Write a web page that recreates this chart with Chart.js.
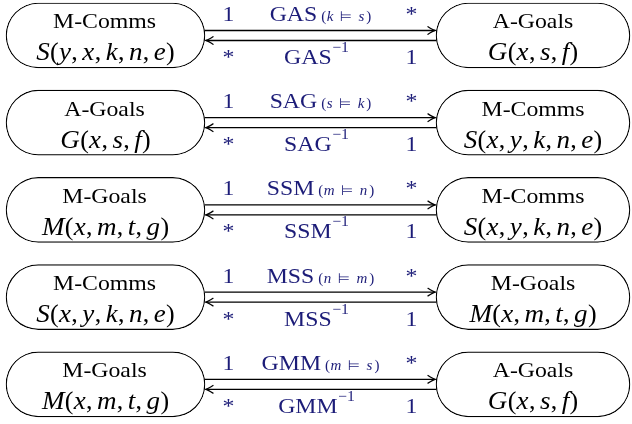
<!DOCTYPE html>
<html><head><meta charset="utf-8">
<script src="https://cdn.jsdelivr.net/npm/chart.js@4/dist/chart.umd.min.js"></script>
<style>html,body{margin:0;padding:0;background:#fff}#wrap{width:632px;height:424px}</style>
</head><body><div id="wrap"><canvas id="c" width="632" height="424"></canvas></div>
<script>
// ---- data ----
const leftTitles    = ['M-Comms', 'A-Goals', 'M-Goals', 'M-Comms', 'M-Goals'];
const leftFormulas  = ['S(y,x,k,n,e)', 'G(x,s,f)', 'M(x,m,t,g)', 'S(x,y,k,n,e)', 'M(x,m,t,g)'];
const rightTitles   = ['A-Goals', 'M-Comms', 'M-Comms', 'M-Goals', 'A-Goals'];
const rightFormulas = ['G(x,s,f)', 'S(x,y,k,n,e)', 'S(x,y,k,n,e)', 'M(x,m,t,g)', 'G(x,s,f)'];
const relations     = ['GAS', 'SAG', 'SSM', 'MSS', 'GMM'];
const conditions    = [['k','s'], ['s','k'], ['m','n'], ['n','m'], ['m','s']];
const forwardMult   = ['1', '*'];   // source end, target end
const inverseMult   = ['*', '1'];
const rows = relations.map((_, i) => i);

// ---- layout / style (not data) ----
const L = {
  leftBox: [6, 205], rightBox: [436, 630], boxH: 65,
  yMin: -0.407, yMax: 4.455,
  arrowOff: 5, multL: 228.5, multR: 411.5,
  topBase: -14.5, botBase: 28.5, titleBase: -7, formBase: 25
};
const SERIF = '"Liberation Serif", "DejaVu Serif", serif';
const NAVY = '#1c1c78';
const SX = 1.08;   // horizontal stretch of the text font
const FS = 22;     // main text size

function rich(ctx, segs, cx, base, color) {
  let w = 0;
  segs.forEach(s => {
    ctx.font = s.f; s.sx = s.sx || 1;
    s.w = ctx.measureText(s.t).width * s.sx; w += (s.g || 0) + s.w;
  });
  let x = cx - w / 2;
  ctx.fillStyle = color; ctx.textAlign = 'left'; ctx.textBaseline = 'alphabetic';
  segs.forEach(s => {
    x += s.g || 0; ctx.font = s.f;
    ctx.save(); ctx.translate(x, base - (s.r || 0)); ctx.scale(s.sx, 1);
    ctx.fillText(s.t, 0, 0); ctx.restore();
    x += s.w;
  });
}
function mathSegs(str, size) {
  const segs = [];
  let gap = 0;
  for (const ch of str) {
    if (/[A-Za-z]/.test(ch)) segs.push({ t: ch, f: `italic ${size}px ${SERIF}`, g: gap, sx: 1.04 });
    else segs.push({ t: ch, f: `${size}px ${SERIF}`, g: gap });
    gap = ch === ',' ? 4.5 : 0.3;
  }
  return segs;
}
const txt = (t, size, extra) => Object.assign({ t, f: `${size}px ${SERIF}`, sx: SX }, extra || {});

const diagram = {
  id: 'diagram',
  afterDatasetsDraw(chart) {
    const ctx = chart.ctx, xs = chart.scales.x, ys = chart.scales.y;
    ctx.save();
    rows.forEach(i => {
      const cy = ys.getPixelForValue(i);
      const xl = xs.getPixelForValue(L.leftBox[1]), xr = xs.getPixelForValue(L.rightBox[0]);
      const lc = xs.getPixelForValue((L.leftBox[0] + L.leftBox[1]) / 2);
      const rc = xs.getPixelForValue((L.rightBox[0] + L.rightBox[1]) / 2);
      const mid = (xl + xr) / 2;
      const mL = xs.getPixelForValue(L.multL), mR = xs.getPixelForValue(L.multR);
      // arrows
      ctx.strokeStyle = '#000'; ctx.lineWidth = 1.3; ctx.lineCap = 'round';
      const ya = cy - L.arrowOff, yb = cy + L.arrowOff;
      ctx.beginPath(); ctx.moveTo(xl, ya); ctx.lineTo(xr - 1, ya); ctx.stroke();
      ctx.beginPath(); ctx.moveTo(xr - 8, ya - 3.8); ctx.quadraticCurveTo(xr - 3, ya - 0.6, xr - 1, ya);
      ctx.quadraticCurveTo(xr - 3, ya + 0.6, xr - 8, ya + 3.8); ctx.stroke();
      ctx.beginPath(); ctx.moveTo(xr, yb); ctx.lineTo(xl + 1, yb); ctx.stroke();
      ctx.beginPath(); ctx.moveTo(xl + 8, yb - 3.8); ctx.quadraticCurveTo(xl + 3, yb - 0.6, xl + 1, yb);
      ctx.quadraticCurveTo(xl + 3, yb + 0.6, xl + 8, yb + 3.8); ctx.stroke();
      // node texts
      rich(ctx, [txt(leftTitles[i], FS)], lc - 1, cy + L.titleBase, '#000');
      rich(ctx, mathSegs(leftFormulas[i], 26), lc, cy + L.formBase, '#000');
      rich(ctx, [txt(rightTitles[i], FS)], rc, cy + L.titleBase, '#000');
      rich(ctx, mathSegs(rightFormulas[i], 26), rc, cy + L.formBase, '#000');
      // relation labels
      const sm = 15, c = conditions[i];
      rich(ctx, [
        txt(relations[i], FS),
        { t: '(', f: `${sm}px ${SERIF}`, g: 4 },
        { t: c[0], f: `italic ${sm}px ${SERIF}`, g: 0.5 },
        { t: '\u22A8', f: `${sm - 1}px "DejaVu Sans", ${SERIF}`, g: 6.5 },
        { t: c[1], f: `italic ${sm}px ${SERIF}`, g: 6.5 },
        { t: ')', f: `${sm}px ${SERIF}`, g: 2 }
      ], mid, cy + L.topBase, NAVY);
      rich(ctx, [
        txt(relations[i], FS),
        { t: '\u22121', f: `15px ${SERIF}`, r: 12, g: 0.5, sx: 1.05 }
      ], mid - 4, cy + L.botBase, NAVY);
      rich(ctx, [txt(forwardMult[0], FS)], mL, cy + L.topBase, NAVY);
      rich(ctx, [txt(forwardMult[1], FS)], mR, cy + L.topBase, NAVY);
      rich(ctx, [txt(inverseMult[0], FS)], mL, cy + L.botBase, NAVY);
      rich(ctx, [txt(inverseMult[1], FS)], mR, cy + L.botBase, NAVY);
    });
    ctx.restore();
  }
};

const boxStyle = {
  backgroundColor: '#fff', borderColor: '#000', borderWidth: 1.2,
  borderSkipped: false, borderRadius: 40, barThickness: L.boxH, grouped: false
};

new Chart(document.getElementById('c'), {
  type: 'bar',
  data: {
    datasets: [
      Object.assign({ label: 'left', data: rows.map(i => ({ y: i, x: L.leftBox })) }, boxStyle),
      Object.assign({ label: 'right', data: rows.map(i => ({ y: i, x: L.rightBox })) }, boxStyle)
    ]
  },
  options: {
    indexAxis: 'y', responsive: false, animation: false, devicePixelRatio: 1,
    layout: { padding: 0 },
    plugins: { legend: { display: false }, tooltip: { enabled: false } },
    scales: {
      x: { type: 'linear', min: 0, max: 632, display: false, offset: false },
      y: { type: 'linear', min: L.yMin, max: L.yMax, reverse: true, display: false, offset: false }
    }
  },
  plugins: [diagram]
});
</script></body></html>
